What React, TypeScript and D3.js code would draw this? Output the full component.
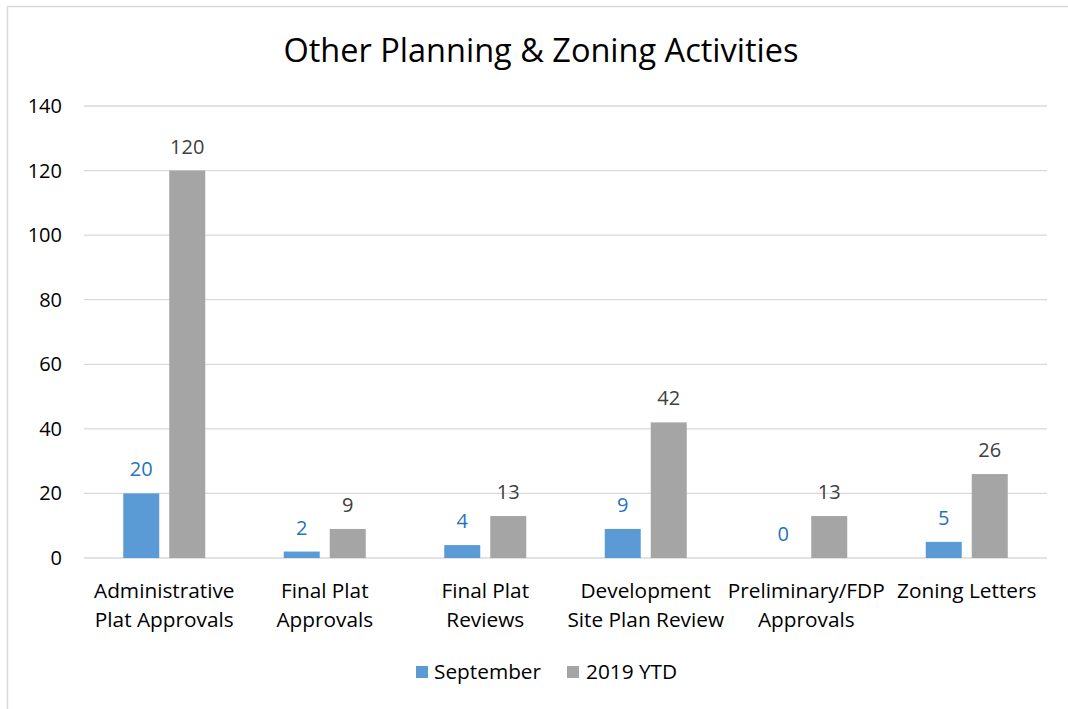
import React from "react";
import * as d3 from "d3";

const categories: string[][] = [
  ["Administrative", "Plat Approvals"],
  ["Final Plat", "Approvals"],
  ["Final Plat", "Reviews"],
  ["Development", "Site Plan Review"],
  ["Preliminary/FDP", "Approvals"],
  ["Zoning Letters"],
];
const september = [20, 2, 4, 9, 0, 5];
const ytd = [120, 9, 13, 42, 13, 26];
const seriesNames = ["September", "2019 YTD"];
const yTicks = [0, 20, 40, 60, 80, 100, 120, 140];

const W = 1068;
const H = 709;
const FONT = "'Open Sans', 'Noto Sans', sans-serif";
const blue = "#5B9BD5";
const gray = "#A5A5A5";

export default function App() {
  const left = 84, right = 1047, top = 106, bottom = 558;
  const x = d3.scaleBand<number>().domain(d3.range(categories.length)).range([left, right]).padding(0);
  const y = d3.scaleLinear().domain([0, 140]).range([bottom, top]);
  const barW = 36, gap = 10;
  const series = [september, ytd];
  const colors = [blue, gray];
  const labelColors = ["#1F74C4", "#404040"];
  return (
    <svg width={W} height={H} style={{ position: "absolute", left: 0, top: 0 }}>
      <rect x={0} y={0} width={W} height={H} fill="#fff" />
      <rect x={7.5} y={6.5} width={W + 20} height={H + 20} fill="none" stroke="#D9D9D9" strokeWidth={1.5} />
      <text x={541} y={62} textAnchor="middle" fontFamily={FONT} fontSize={32.5} fill="#000">
        Other Planning &amp; Zoning Activities
      </text>
      {yTicks.map((t) => (
        <g key={t}>
          <line x1={left} x2={right} y1={y(t)} y2={y(t)} stroke="#D9D9D9" strokeWidth={1.3} />
          <text x={62} y={y(t) + 7} textAnchor="end" fontFamily={FONT} fontSize={20} fill="#000">
            {t}
          </text>
        </g>
      ))}
      {series.map((vals, si) =>
        vals.map((v, i) => {
          const cx = x(i)! + x.bandwidth() / 2;
          const bx = si === 0 ? cx - gap / 2 - barW : cx + gap / 2;
          return (
            <g key={`${si}-${i}`}>
              {v > 0 && (
                <rect x={bx} y={y(v)} width={barW} height={y(0) - y(v)} fill={colors[si]} />
              )}
              <text
                x={bx + barW / 2}
                y={y(v) - 17}
                textAnchor="middle"
                fontFamily={FONT}
                fontSize={20}
                fill={labelColors[si]}
              >
                {v}
              </text>
            </g>
          );
        })
      )}
      {categories.map((lines, i) => {
        const cx = x(i)! + x.bandwidth() / 2;
        return (
          <text key={i} textAnchor="middle" fontFamily={FONT} fontSize={20.8} fill="#000">
            {lines.map((l, j) => (
              <tspan key={j} x={cx} y={598 + j * 29}>
                {l}
              </tspan>
            ))}
          </text>
        );
      })}
      <g>
        <rect x={416} y={666} width={12} height={12} fill={blue} />
        <text x={434} y={679} fontFamily={FONT} fontSize={20.8} fill="#000">{seriesNames[0]}</text>
        <rect x={567} y={666} width={12} height={12} fill={gray} />
        <text x={586} y={679} fontFamily={FONT} fontSize={20.8} fill="#000">{seriesNames[1]}</text>
      </g>
    </svg>
  );
}
